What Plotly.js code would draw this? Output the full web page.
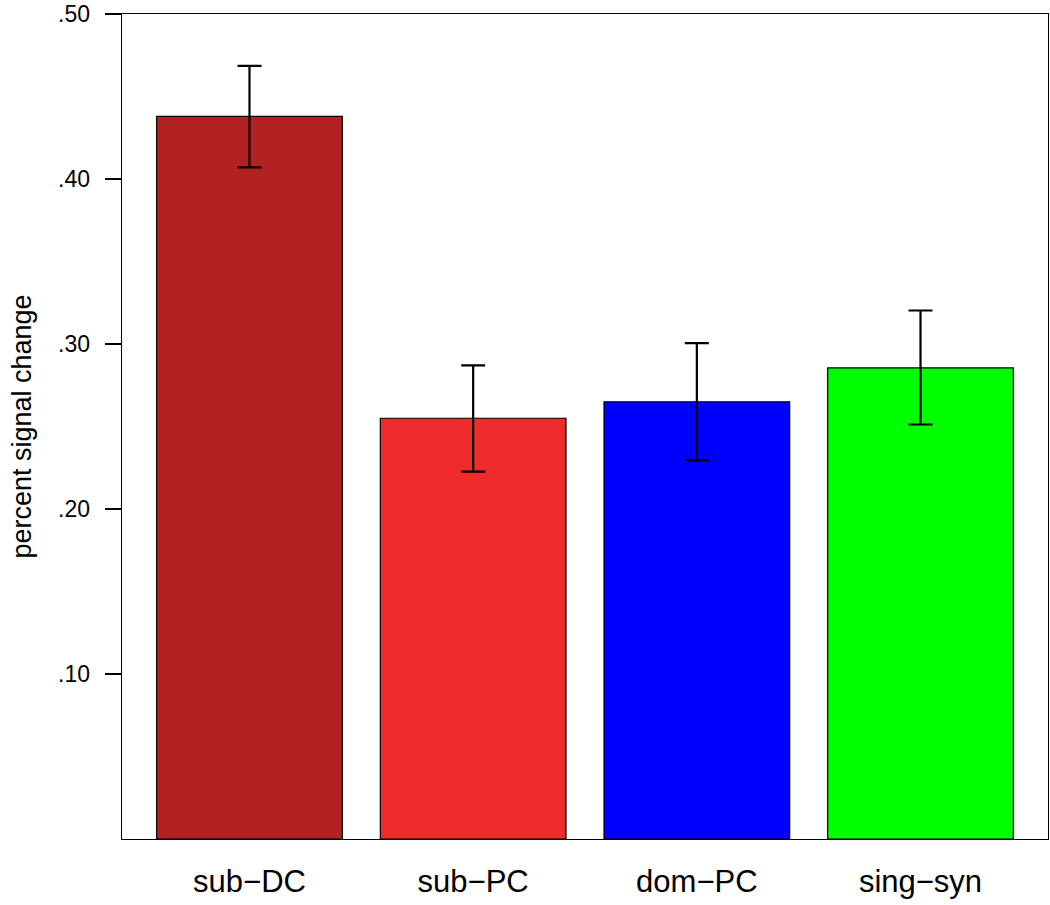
<!DOCTYPE html>
<html>
<head>
<meta charset="utf-8">
<script src="https://cdn.plot.ly/plotly-3.0.1.min.js"></script>
<style>html,body{margin:0;padding:0;background:#fff;}#chart{width:1050px;height:905px;}</style>
</head>
<body>
<div id="chart"></div>
<script>
const categories = ["sub\u2212DC", "sub\u2212PC", "dom\u2212PC", "sing\u2212syn"];
const means = [0.438, 0.255, 0.265, 0.2855];
const errPlus = [0.0305, 0.032, 0.0355, 0.0348];
const errMinus = [0.031, 0.0323, 0.0355, 0.0343];
const barColors = ["#B22222", "#EE2C2C", "#0000FF", "#00FF00"];
const yTickVals = [0.1, 0.2, 0.3, 0.4, 0.5];
const yTickText = [".10", ".20", ".30", ".40", ".50"];

const trace = {
  type: "bar",
  x: categories,
  y: means,
  marker: { color: barColors, line: { color: "#000", width: 1.2 } },
  error_y: { type: "data", symmetric: false, array: errPlus, arrayminus: errMinus,
             color: "#000", thickness: 2.2, width: 12 },
  hoverinfo: "x+y"
};

const layout = {
  width: 1050, height: 905,
  margin: { l: 122, r: 2, t: 14, b: 66 },
  paper_bgcolor: "#fff", plot_bgcolor: "#fff",
  showlegend: false,
  bargap: 0.17,
  font: { family: "Liberation Sans, Arial, sans-serif", color: "#000" },
  xaxis: {
    type: "category", range: [-0.57, 3.57],
    showline: true, mirror: true, linecolor: "#000", linewidth: 1.3,
    showgrid: false, zeroline: false,
    ticks: "outside", ticklen: 14, tickcolor: "rgba(0,0,0,0)",
    tickfont: { size: 31, color: "#000" }
  },
  yaxis: {
    range: [0, 0.5], autorange: false,
    showline: true, mirror: true, linecolor: "#000", linewidth: 1.3,
    showgrid: false, zeroline: false,
    ticks: "outside", ticklen: 16, tickwidth: 1.5, tickcolor: "#000",
    tickvals: yTickVals, ticktext: yTickText,
    ticklabelstandoff: 10,
    ticklabeloverflow: "allow",
    tickfont: { size: 23, color: "#000" },
    title: { text: "percent signal change", font: { size: 27, color: "#000" }, standoff: 18 }
  }
};

Plotly.newPlot("chart", [trace], layout, { displayModeBar: false, staticPlot: true });
</script>
</body>
</html>
